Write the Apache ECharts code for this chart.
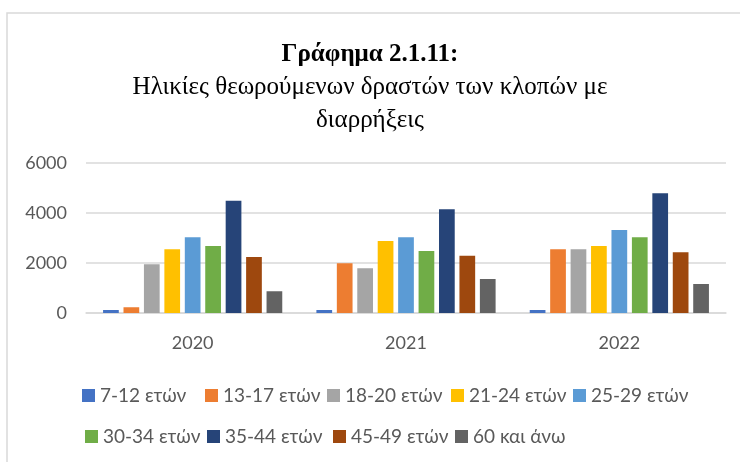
<!DOCTYPE html>
<html>
<head>
<meta charset="utf-8">
<script src="https://cdn.jsdelivr.net/npm/echarts@6/dist/echarts.min.js"></script>
<style>
html, body { margin: 0; padding: 0; background: #fff; }
#container { width: 740px; height: 462px; }
</style>
</head>
<body>
<div id="container"></div>
<script>
var years = ['2020', '2021', '2022'];
var groups = ['7-12 ετών', '13-17 ετών', '18-20 ετών', '21-24 ετών', '25-29 ετών',
	'30-34 ετών', '35-44 ετών', '45-49 ετών', '60 και άνω'];
var values = [
	[120, 120, 120],
	[230, 1990, 2550],
	[1950, 1790, 2550],
	[2550, 2880, 2680],
	[3030, 3030, 3320],
	[2680, 2480, 3030],
	[4490, 4150, 4790],
	[2240, 2290, 2430],
	[870, 1360, 1160]
];
var colors = ['#4472C4', '#ED7D31', '#A5A5A5', '#FFC000', '#5B9BD5', '#70AD47', '#264478', '#9E480E', '#636363'];

var dom = document.getElementById('container');
var myChart = echarts.init(dom);

var series = [];
for (var i = 0; i < groups.length; i++) {
	series.push({
		name : groups[i],
		type : 'bar',
		data : values[i],
		barGap : '30%',
		barCategoryGap : '16%',
		itemStyle : {
			color : colors[i]
		}
	});
}

// one small legend per entry, placed where Excel put them (two rows)
var legendLeft = [82, 205, 327, 451, 573, 85, 207, 333, 455];
var legends = [];
for (var j = 0; j < groups.length; j++) {
	legends.push({
		data : [groups[j]],
		left : legendLeft[j],
		top : j < 5 ? 386 : 427,
		padding : 0,
		itemWidth : 13,
		itemHeight : 13,
		icon : 'rect',
		textStyle : {
			fontFamily : 'Lato',
			fontSize : 19,
			color : '#595959'
		}
	});
}

myChart.setOption({
	animation : false,
	color : colors,
	title : {
		text : '{b|Γράφημα 2.1.11:}\nΗλικίες θεωρούμενων δραστών των κλοπών με\nδιαρρήξεις',
		left : 'center',
		top : 33,
		textStyle : {
			fontFamily : 'Liberation Serif',
			fontSize : 25,
			fontWeight : 'normal',
			color : '#000',
			lineHeight : 33,
			rich : {
				b : {
					fontFamily : 'Liberation Serif',
					fontSize : 25,
					fontWeight : 'bold',
					color : '#000',
					lineHeight : 33
				}
			}
		}
	},
	graphic : [ {
		type : 'rect',
		shape : { x : 7, y : 13, width : 800, height : 500 },
		style : { fill : 'none', stroke : '#d9d9d9', lineWidth : 1.5 },
		silent : true
	} ],
	legend : legends,
	grid : {
		left : 86,
		right : 14,
		top : 163,
		bottom : 149
	},
	xAxis : {
		type : 'category',
		data : years,
		axisLine : { lineStyle : { color : '#d9d9d9', width : 1.5 } },
		axisTick : { show : false },
		axisLabel : {
			margin : 21,
			fontFamily : 'Lato',
			fontSize : 18,
			color : '#595959'
		}
	},
	yAxis : {
		type : 'value',
		min : 0,
		max : 6000,
		interval : 2000,
		axisLine : { show : false },
		axisTick : { show : false },
		splitLine : { lineStyle : { color : '#d9d9d9', width : 1.5 } },
		axisLabel : {
			margin : 19,
			fontFamily : 'Lato',
			fontSize : 18,
			color : '#595959',
			formatter : function(v) { return String(v); }
		}
	},
	series : series
});
</script>
</body>
</html>
